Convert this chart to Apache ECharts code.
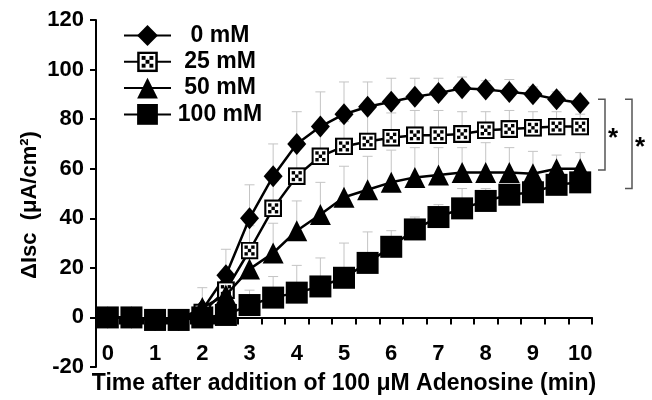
<!DOCTYPE html>
<html>
<head>
<meta charset="utf-8">
<script src="https://cdn.jsdelivr.net/npm/echarts@6/dist/echarts.min.js"></script>
<style>
  html, body { margin: 0; padding: 0; background: #fff; }
  #chart { width: 652px; height: 400px; }
</style>
</head>
<body>
<div id="chart"></div>
<script>
// time points (min), one category every 0.5 min
const times = ['0', '0.5', '1', '1.5', '2', '2.5', '3', '3.5', '4', '4.5', '5',
  '5.5', '6', '6.5', '7', '7.5', '8', '8.5', '9', '9.5', '10'];

const seriesNames = ['0 mM', '25 mM', '50 mM', '100 mM'];

// mean ΔIsc values
const mM0 = [0, 0, -1, -1, 3, 17, 40, 57, 70, 77, 82, 85, 87, 89, 90.5, 92.5, 92, 91, 90, 88, 86.5];
const mM25 = [0, 0, -1, -1, 2, 11, 27, 44, 57, 65, 69, 71, 72.5, 73.5, 73.5, 74, 75.5, 76, 76.5, 77, 77];
const mM50 = [0, 0, -1, -1, 4, 9, 19.5, 26, 35, 41.5, 48.5, 51.5, 54.5, 56.5, 57.5, 58.5, 58.5, 58.5, 58, 60, 60];
const mM100 = [0, 0, -1, -1, 0, 1, 5, 8, 10, 12.5, 16, 22, 28.5, 35.5, 40.5, 44, 47, 49.5, 50.5, 53.5, 54.5];

// upper error bars
const err0 = [0, 0, 0, 0, 2, 10.5, 13.5, 13, 13, 14, 13, 10, 9.5, 7.5, 6, 4.5, 3.5, 5, 3, 3, 2];
const err25 = [0, 0, 0, 0, 2, 5, 10, 12, 12, 12, 10, 12, 10, 10, 10, 9, 7.5, 7.5, 6.5, 6, 5];
const err50 = [0, 0, 0, 0, 8, 8, 10, 12, 12, 13, 12.5, 13.5, 13, 12, 11, 10, 12, 10, 9, 5.5, 6.5];
const err100 = [0, 0, 0, 0, 1, 2, 6, 8.5, 11, 11.5, 14, 12.5, 6.5, 5, 5, 8, 5, 4, 3, 3, 3];

// significance brackets (y values)
const bracketTop = 88;
const bracketBottoms = [59.5, 52];

const values = [mM0, mM25, mM50, mM100];
const errors = [err0, err25, err50, err100];

const FONT = "'Liberation Sans', Arial, sans-serif";

const checkerSvg =
  '<svg xmlns="http://www.w3.org/2000/svg" width="32" height="32" viewBox="0 0 16 16">' +
  '<rect x="0" y="0" width="16" height="16" fill="#000"/>' +
  '<rect x="2" y="2" width="12" height="12" fill="#fff"/>' +
  '<rect x="3.5" y="3.5" width="3" height="3" fill="#000"/>' +
  '<rect x="9.5" y="3.5" width="3" height="3" fill="#000"/>' +
  '<rect x="6.5" y="6.5" width="3" height="3" fill="#000"/>' +
  '<rect x="3.5" y="9.5" width="3" height="3" fill="#000"/>' +
  '<rect x="9.5" y="9.5" width="3" height="3" fill="#000"/>' +
  '</svg>';
const checkerSymbol = 'image://data:image/svg+xml;charset=utf-8,' + encodeURIComponent(checkerSvg);

const symbols = ['diamond', checkerSymbol, 'triangle', 'rect'];
const symbolSizes = [[19, 22], 18, 21, 22];

const lineSeries = seriesNames.map((name, k) => ({
  name: name,
  type: 'line',
  data: values[k],
  symbol: symbols[k],
  symbolSize: symbolSizes[k],
  showAllSymbol: true,
  z: 3 + k,
  lineStyle: { color: '#000', width: 2.5 },
  itemStyle: { color: '#000', borderWidth: 0 },
  emphasis: { disabled: true }
}));

const errSeries = seriesNames.map((name, k) => ({
  name: name + ' err',
  type: 'custom',
  z: 1,
  silent: true,
  encode: { x: 0, y: 1 },
  data: values[k].map((v, i) => [i, v, errors[k][i]]),
  renderItem: function (params, api) {
    const e = api.value(2);
    if (!e) return null;
    const p0 = api.coord([api.value(0), api.value(1)]);
    const p1 = api.coord([api.value(0), api.value(1) + e]);
    const st = { stroke: '#c4c4c4', lineWidth: 1 };
    return {
      type: 'group',
      children: [
        { type: 'line', shape: { x1: p0[0], y1: p0[1], x2: p1[0], y2: p1[1] }, style: st },
        { type: 'line', shape: { x1: p1[0] - 5, y1: p1[1], x2: p1[0] + 5, y2: p1[1] }, style: st }
      ]
    };
  }
}));

const chart = echarts.init(document.getElementById('chart'));

const option = {
  animation: false,
  grid: { left: 96, right: 60, top: 20, bottom: 33, containLabel: false, outerBoundsMode: 'none' },
  legend: {
    data: seriesNames,
    orient: 'vertical',
    left: 118,
    top: 19,
    itemWidth: 47,
    itemHeight: 26,
    itemGap: 3.3,
    selectedMode: false,
    formatter: name => '{a|' + name + '}',
    textStyle: {
      rich: {
        a: { width: 88, align: 'center', fontSize: 23, fontWeight: 'bold', fontFamily: FONT, color: '#000' }
      }
    }
  },
  xAxis: {
    type: 'category',
    data: times,
    boundaryGap: true,
    axisLine: { onZero: true, lineStyle: { color: '#000', width: 2 } },
    axisTick: { show: true, interval: 0, length: 7, lineStyle: { color: '#000', width: 2 } },
    axisLabel: {
      interval: 1,
      margin: -24,
      color: '#000',
      fontSize: 22,
      fontWeight: 'bold',
      fontFamily: FONT
    },
    name: 'Time after addition of 100 \u03bcM Adenosine (min)',
    nameLocation: 'middle',
    nameGap: 5,
    nameTextStyle: { color: '#000', fontSize: 23, fontWeight: 'bold', fontFamily: FONT }
  },
  yAxis: {
    type: 'value',
    min: -20,
    max: 120,
    interval: 20,
    splitLine: { show: false },
    axisLine: { show: true, lineStyle: { color: '#000', width: 2 } },
    axisTick: { show: true, length: 6, lineStyle: { color: '#000', width: 2 } },
    axisLabel: {
      margin: 12,
      color: '#000',
      fontSize: 22,
      fontWeight: 'bold',
      fontFamily: FONT
    }
  },
  series: errSeries.concat(lineSeries)
};

chart.setOption(option);

// y axis title and significance brackets
const yTop = chart.convertToPixel({ yAxisIndex: 0 }, bracketTop);
const yB1 = chart.convertToPixel({ yAxisIndex: 0 }, bracketBottoms[0]);
const yB2 = chart.convertToPixel({ yAxisIndex: 0 }, bracketBottoms[1]);
const bracketStyle = { stroke: '#555', lineWidth: 1.5, fill: null };

chart.setOption({
  graphic: [
    {
      type: 'text',
      x: 30,
      y: 205,
      rotation: Math.PI / 2,
      style: {
        text: '\u0394Isc  (\u03bcA/cm\u00b2)',
        fontSize: 22,
        fontWeight: 'bold',
        fontFamily: FONT,
        fill: '#000',
        textAlign: 'center',
        textVerticalAlign: 'middle'
      }
    },
    {
      type: 'polyline',
      shape: { points: [[598, yTop], [605, yTop], [605, yB1], [598, yB1]] },
      style: bracketStyle
    },
    {
      type: 'polyline',
      shape: { points: [[625, yTop], [632, yTop], [632, yB2], [625, yB2]] },
      style: bracketStyle
    },
    {
      type: 'text', x: 613, y: (yTop + yB1) / 2 + 4,
      style: { text: '*', fontSize: 26, fontWeight: 'bold', fontFamily: FONT, fill: '#000', textAlign: 'center', textVerticalAlign: 'middle' }
    },
    {
      type: 'text', x: 640, y: (yTop + yB2) / 2 + 4,
      style: { text: '*', fontSize: 26, fontWeight: 'bold', fontFamily: FONT, fill: '#000', textAlign: 'center', textVerticalAlign: 'middle' }
    }
  ]
});

window.addEventListener('resize', () => chart.resize());
</script>
</body>
</html>
